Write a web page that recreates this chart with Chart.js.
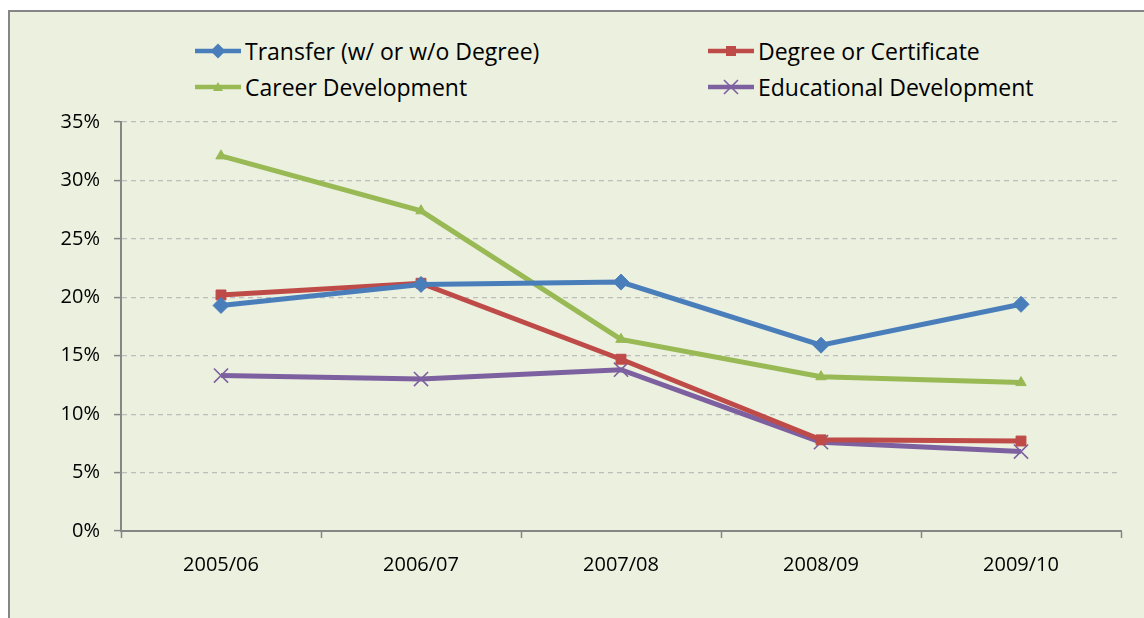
<!DOCTYPE html>
<html>
<head>
<meta charset="utf-8">
<script src="https://cdn.jsdelivr.net/npm/chart.js@4/dist/chart.umd.min.js"></script>
<style>
  html, body { margin:0; padding:0; background:#ffffff; width:1144px; height:618px; overflow:hidden; }
  #frame { position:absolute; left:8px; top:10px; width:1136px; height:608px; background:#EBF0DF; border-left:2px solid #868686; border-top:2px solid #868686; box-sizing:border-box; }
  #wrap { position:absolute; left:0; top:0; width:1144px; height:618px; }
  .leg { position:absolute; display:flex; align-items:center; font-family:"Open Sans", sans-serif; font-size:23px; color:#000; white-space:nowrap; height:30px; }
  .leg svg { margin-right:4px; }
</style>
</head>
<body>
<div id="frame"></div>
<div id="legend"></div>
<div id="wrap"><canvas id="c" width="1144" height="618"></canvas></div>
<script>
const categories = ["2005/06", "2006/07", "2007/08", "2008/09", "2009/10"];
const transfer = [19.3, 21.1, 21.3, 15.9, 19.4];
const degree = [20.2, 21.2, 14.7, 7.8, 7.7];
const career = [32.1, 27.4, 16.4, 13.2, 12.7];
const educational = [13.3, 13.0, 13.8, 7.6, 6.8];
const seriesNames = ["Transfer (w/ or w/o Degree)", "Degree or Certificate", "Career Development", "Educational Development"];
const yTicks = [0, 5, 10, 15, 20, 25, 30, 35];

const colors = ["#4A7EBB", "#BE4B48", "#98B954", "#7D60A0"];
const styles = ["rectRot", "rect", "triangle", "crossRot"];
const radii = [8, 7, 6, 10];
const values = [transfer, degree, career, educational];

// HTML legend (2 columns)
const legPos = [[195, 51], [708, 51], [195, 87], [708, 87]];
const markerSvg = [
  c => `<polygon points="23,0.5 30.5,8 23,15.5 15.5,8" fill="${c}"/>`,
  c => `<rect x="18" y="3" width="10" height="10" fill="${c}"/>`,
  c => `<polygon points="23,3 28,12 18,12" fill="${c}"/>`,
  c => `<path d="M16,1 L30,15 M30,1 L16,15" stroke="${c}" stroke-width="1.6"/>`
];
const legend = document.getElementById('legend');
seriesNames.forEach((n, i) => {
  const d = document.createElement('div');
  d.className = 'leg';
  d.style.left = legPos[i][0] + 'px';
  d.style.top = (legPos[i][1] - 15) + 'px';
  d.innerHTML = `<svg width="46" height="16"><line x1="0" y1="8" x2="46" y2="8" stroke="${colors[i]}" stroke-width="4.5"/>${markerSvg[i](colors[i])}</svg><span>${n}</span>`;
  legend.appendChild(d);
});

const datasets = seriesNames.map((n, i) => ({
  label: n,
  data: values[i],
  borderColor: colors[i],
  backgroundColor: colors[i],
  borderWidth: 5,
  pointStyle: styles[i],
  pointRadius: radii[i],
  pointBorderWidth: i === 3 ? 1.6 : 1,
  pointBorderColor: colors[i],
  pointBackgroundColor: colors[i],
  tension: 0
}));

new Chart(document.getElementById('c'), {
  type: 'line',
  data: { labels: categories, datasets },
  options: {
    responsive: false,
    animation: false,
    layout: { padding: { top: 122, right: 23, left: 0, bottom: 0 } },
    plugins: { legend: { display: false }, tooltip: { enabled: false } },
    scales: {
      x: {
        offset: true,
        grid: { offset: true, drawOnChartArea: false, drawTicks: true, tickLength: 7, tickColor: '#868686', tickWidth: 1.5 },
        border: { color: '#868686', width: 2 },
        ticks: { color: '#000', font: { family: 'Open Sans', size: 20 }, padding: 15, maxRotation: 0 },
        afterFit: s => { s.height = 87; }
      },
      y: {
        min: 0, max: 35,
        afterBuildTicks: s => { s.ticks = yTicks.map(v => ({ value: v })); },
        grid: { color: '#BDBDBD', lineWidth: 1.2, tickLength: 7, tickColor: '#868686', tickWidth: 1.5, tickBorderDash: [], drawTicks: true },
        border: { color: '#868686', width: 2, dash: [5, 4] },
        ticks: { color: '#000', font: { family: 'Open Sans', size: 20 }, padding: 14, callback: v => v + '%' },
        afterFit: s => { s.width = 121; }
      }
    }
  }
});
</script>
</body>
</html>
